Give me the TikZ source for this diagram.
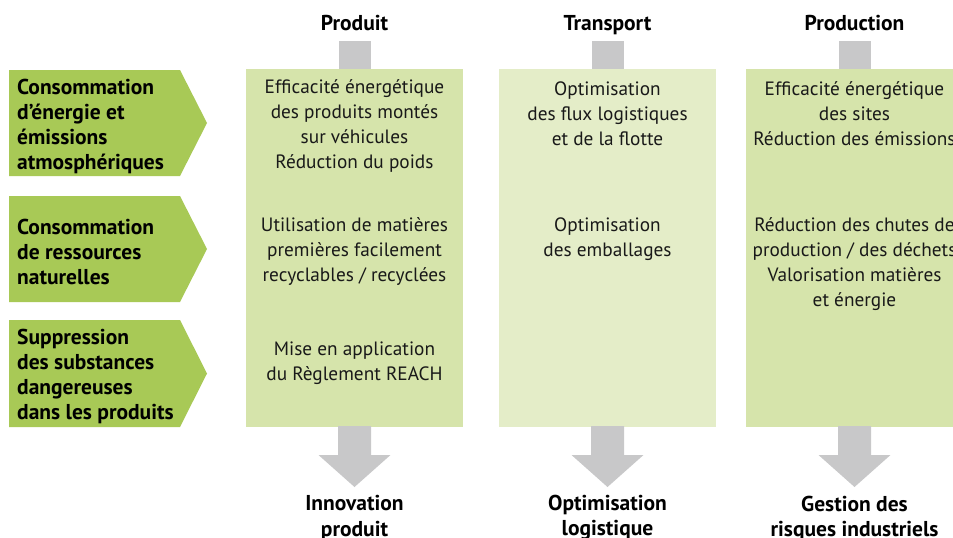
\documentclass[tikz,border=0pt]{standalone}
\usepackage{fontspec}
\setmainfont{PT Sans}
\definecolor{arrowgreen}{HTML}{A8C956}
\definecolor{boxgreen}{HTML}{D6E4AB}
\definecolor{boxlight}{HTML}{E4EDC8}
\definecolor{stemgrey}{HTML}{C8C8C9}
\tikzset{
  colbox/.style={draw=none, minimum width=217pt, minimum height=358pt, inner sep=0pt},
  bodytxt/.style={align=center, font=\fontsize{19.3}{25}\selectfont, inner sep=0pt, text=black!90},
  lbltxt/.style={align=left, font=\fontsize{21.5}{25}\selectfont\bfseries, inner sep=0pt, anchor=west},
  headtxt/.style={font=\fontsize{21.5}{25}\selectfont\bfseries, inner sep=0pt, anchor=base},
  foottxt/.style={align=center, font=\fontsize{21.5}{25}\selectfont\bfseries, inner sep=0pt},
  greyshape/.style={fill=stemgrey, draw=none},
  lblarrow/.style={fill=arrowgreen, draw=none}
}
\begin{document}
\begin{tikzpicture}[x=1pt,y=-1pt]
\useasboundingbox (0,0) rectangle (953,538);
\clip (0,0) rectangle (953,538);
\fill[white] (0,0) rectangle (953,538);

% columns
\node[colbox, fill=boxgreen] (colP) at (354.5,248) {};
\node[colbox, fill=boxlight] (colT) at (607.5,248) {};
\node[colbox, fill=boxgreen] (colR) at (854.5,248) {};

% headers and top stems
\foreach \c/\h/\n in {354.5/Produit/P, 607.5/Transport/T, 854.5/Production/R}{
  \node[headtxt] (head\n) at (\c,30.5) {\h};
  \fill[greyshape] (\c-16,41) rectangle (\c+16,69);
  \fill[greyshape] (\c-16.5,426) -- (\c+16.5,426) -- (\c+16.5,455) -- (\c+36,455)
     -- (\c,487) -- (\c-36,455) -- (\c-16.5,455) -- cycle;
}

% left arrows
\foreach \a/\b in {70/176, 196/302, 320/427}{
  \fill[lblarrow] (9,\a) -- (180,\a) -- (207,{(\a+\b)/2}) -- (180,\b) -- (9,\b) -- cycle;
}
\node[lbltxt] (l1) at (17,126) {Consommation\\d’énergie et\\émissions\\atmosphériques};
\node[lbltxt] (l2) at (17,251.5) {Consommation\\de ressources\\naturelles};
\node[lbltxt] (l3) at (17,376) {Suppression\\des substances\\dangereuses\\dans les produits};

% Produit texts
\node[bodytxt] (p1) at (354.5,126) {Efficacité énergétique\\des produits montés\\sur véhicules\\Réduction du poids};
\node[bodytxt] (p2) at (354.5,251.5) {Utilisation de matières\\premières facilement\\recyclables / recyclées};
\node[bodytxt] (p3) at (354.5,363) {Mise en application\\du Règlement REACH};

% Transport texts
\node[bodytxt] (t1) at (607.5,113.5) {Optimisation\\des flux logistiques\\et de la flotte};
\node[bodytxt] (t2) at (607.5,239) {Optimisation\\des emballages};

% Production texts
\node[bodytxt] (r1) at (854.5,113.5) {Efficacité énergétique\\des sites\\Réduction des émissions};
\node[bodytxt] (r2) at (854.5,264) {Réduction des chutes de\\production / des déchets\\Valorisation matières\\et énergie};

% footers
\node[foottxt] (fP) at (354.5,518) {Innovation\\produit};
\node[foottxt] (fT) at (607.5,518) {Optimisation\\logistique};
\node[foottxt] (fR) at (854.5,518) {Gestion des\\risques industriels};
\end{tikzpicture}
\end{document}
